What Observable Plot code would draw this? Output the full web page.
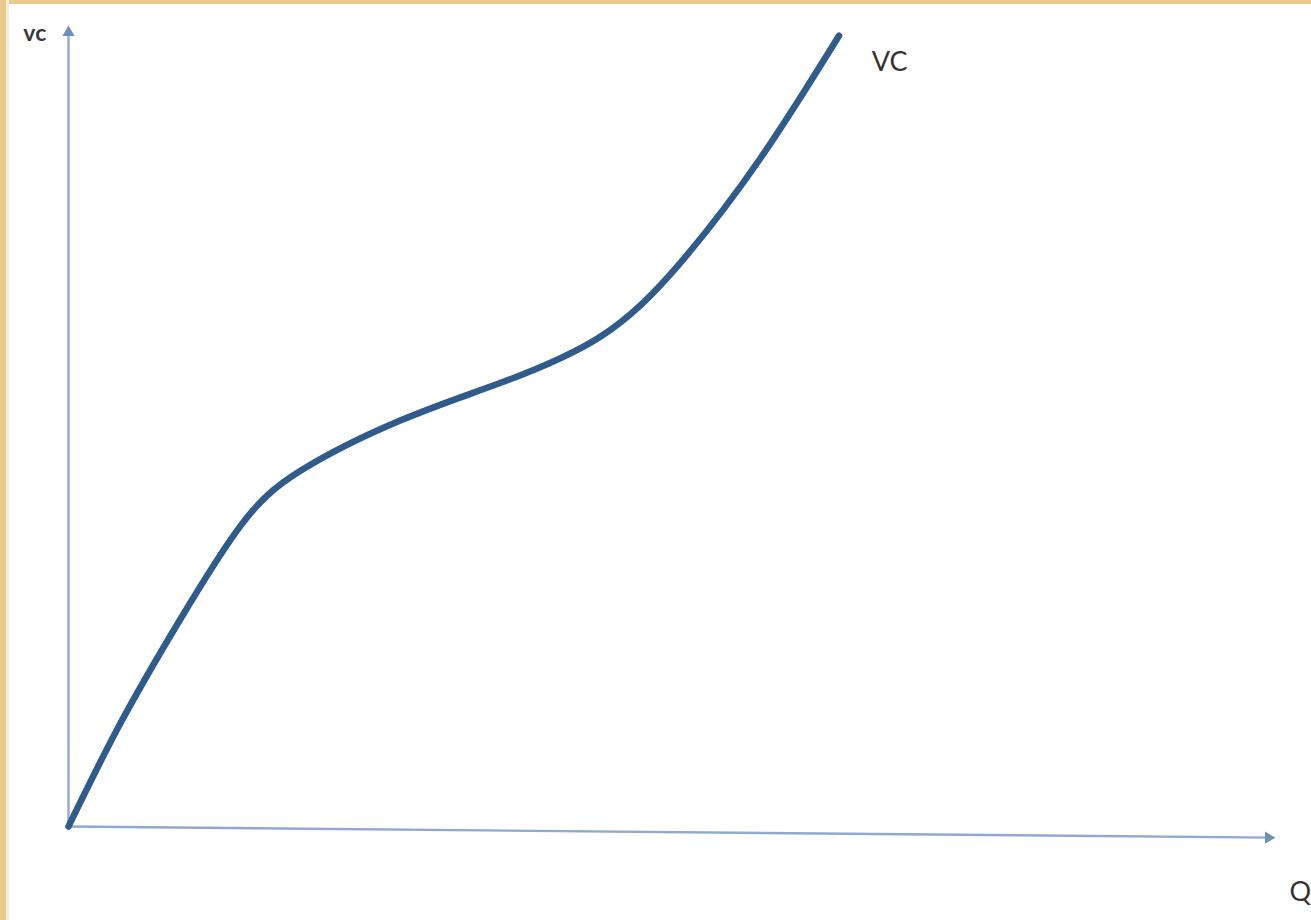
<!DOCTYPE html>
<html>
<head>
<meta charset="utf-8">
<script src="https://cdn.jsdelivr.net/npm/d3@7"></script>
<script src="https://cdn.jsdelivr.net/npm/@observablehq/plot@0.6"></script>
<style>
  html, body { margin: 0; padding: 0; background: #ffffff; width: 1311px; height: 920px; overflow: hidden; }
  #wrap { position: relative; width: 1311px; height: 920px; }
  #chart { position: absolute; left: 0; top: 0; }
  .bar-top { position: absolute; left: 0; top: 0; width: 1311px; height: 4px; background: #ebcb8d; }
  .bar-left { position: absolute; left: 0; top: 0; width: 6px; height: 920px; background: #e8c98b; }
  .bar-left2 { position: absolute; left: 6px; top: 0; width: 3px; height: 920px; background: #f6ecd8; }
</style>
</head>
<body>
<div id="wrap">
  <div id="chart"></div>
  <div class="bar-top"></div>
  <div class="bar-left"></div>
  <div class="bar-left2"></div>
</div>
<script>
// Quantity (Q) and variable cost (VC) (arbitrary units 0–100)
const Q  = [0, 4.3, 9.3, 14.3, 19.3, 27.6, 35.9, 44.2, 50.8, 57.5, 64.0];
const VC = [0, 12.9, 26.0, 37.7, 44.6, 50.9, 55.6, 61.4, 70.6, 83.8, 99.1];

// axis lines (origin to end), in data units
const axisFrom = [[0, 0], [0, 0]];
const axisTo   = [[0, 100], [100, -1.4]];

// labels
const labelText = ["vc", "VC", "Q"];
const labelQ    = [-2.8, 68.2, 102.3];
const labelVC   = [99.3, 95.7, -8.2];

const curve = Q.map((q, i) => ({q, vc: VC[i]}));
const axes = axisFrom.map((f, i) => ({x1: f[0], y1: f[1], x2: axisTo[i][0], y2: axisTo[i][1]}));
const labels = labelText.map((t, i) => ({t, q: labelQ[i], vc: labelVC[i]}));

const chart = Plot.plot({
  width: 1311,
  height: 920,
  marginLeft: 68,
  marginRight: 39,
  marginTop: 28,
  marginBottom: 94,
  style: {background: "transparent", fontFamily: "Lato, 'Open Sans', sans-serif"},
  x: {domain: [0, 100], axis: null},
  y: {domain: [0, 100], axis: null},
  marks: [
    Plot.link(axes, {x1: "x1", y1: "y1", x2: "x2", y2: "y2", stroke: "#8eaad2", strokeWidth: 2.4}),
    Plot.dot([axes[0]], {x: "x2", y: "y2", dy: 4, symbol: "triangle", r: 4.5, rotate: 0, fill: "#6f8fbb", stroke: "none"}),
    Plot.dot([axes[1]], {x: "x2", y: "y2", dx: -4, symbol: "triangle", r: 4.5, rotate: 90, fill: "#6f8fbb", stroke: "none"}),
    Plot.line(curve, {x: "q", y: "vc", curve: "natural", stroke: "#305c8c", strokeWidth: 6.5, strokeLinecap: "round", strokeLinejoin: "round"}),
    Plot.text(labels.filter(d => d.t === "vc"), {x: "q", y: "vc", text: "t", fontSize: 23, fontWeight: "bold", fill: "#3a3a3a"}),
    Plot.text(labels.filter(d => d.t !== "vc"), {x: "q", y: "vc", text: "t", fontSize: 27, fill: "#333333"})
  ]
});
document.getElementById("chart").appendChild(chart);
</script>
</body>
</html>
